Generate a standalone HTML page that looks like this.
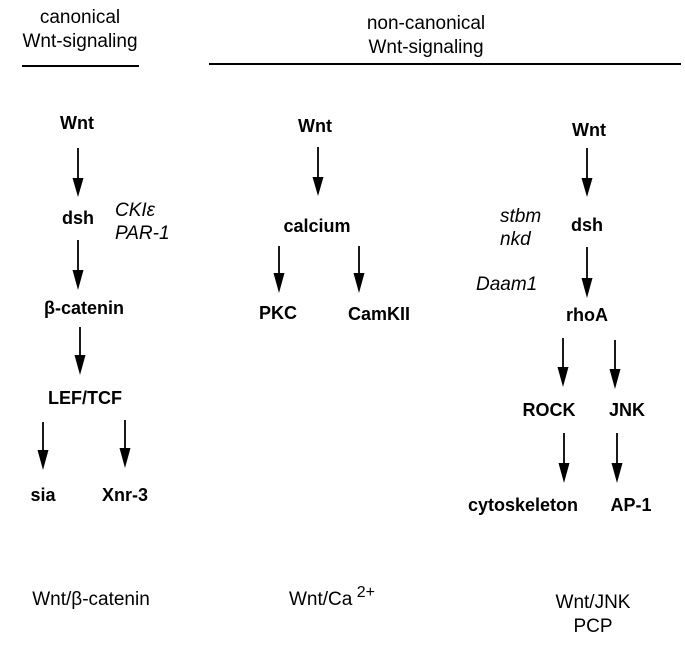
<!DOCTYPE html>
<html><head><meta charset="utf-8"><style>body{margin:0;background:#fff}</style></head><body>
<svg width="685" height="647" xmlns="http://www.w3.org/2000/svg" font-family="Liberation Sans, Arial, sans-serif">
<g font-size="19" text-anchor="middle" fill="#000">
<text x="80" y="23">canonical</text>
<text x="80" y="47">Wnt-signaling</text>
<text x="426" y="29">non-canonical</text>
<text x="426" y="53">Wnt-signaling</text>
<text x="91" y="605">Wnt/β-catenin</text>
<text x="332" y="605">Wnt/Ca<tspan dy="-8" font-size="16"> 2+</tspan></text>
<text x="593" y="608">Wnt/JNK</text>
<text x="593" y="632">PCP</text>
</g>
<line x1="22" y1="66" x2="139" y2="66" stroke="#000" stroke-width="2"/>
<line x1="209" y1="64" x2="681" y2="64" stroke="#000" stroke-width="2"/>
<g font-size="18" font-weight="bold" text-anchor="middle">
<text x="77" y="129">Wnt</text>
<text x="78" y="224">dsh</text>
<text x="84" y="314">β-catenin</text>
<text x="85" y="404">LEF/TCF</text>
<text x="43" y="501">sia</text>
<text x="125" y="501">Xnr-3</text>
<text x="315" y="132">Wnt</text>
<text x="317" y="232">calcium</text>
<text x="278" y="319">PKC</text>
<text x="379" y="320">CamKII</text>
<text x="589" y="136">Wnt</text>
<text x="587" y="231">dsh</text>
<text x="587" y="321">rhoA</text>
<text x="549" y="416">ROCK</text>
<text x="627" y="416">JNK</text>
<text x="523" y="511">cytoskeleton</text>
<text x="631" y="511">AP-1</text>
</g>
<g font-size="19" font-style="italic">
<text x="115" y="216">CKIε</text>
<text x="115" y="239">PAR-1</text>
<text x="500" y="222">stbm</text>
<text x="500" y="245">nkd</text>
<text x="476" y="290">Daam1</text>
</g>
<g stroke="#000" stroke-width="1.8">
<line x1="78" y1="148" x2="78" y2="180"/>
<line x1="78" y1="240" x2="78" y2="272"/>
<line x1="80" y1="327" x2="80" y2="357"/>
<line x1="43" y1="422" x2="43" y2="452"/>
<line x1="125" y1="420" x2="125" y2="450"/>
<line x1="318" y1="147" x2="318" y2="178"/>
<line x1="279" y1="246" x2="279" y2="275"/>
<line x1="359" y1="246" x2="359" y2="275"/>
<line x1="587" y1="148" x2="587" y2="178"/>
<line x1="587" y1="247" x2="587" y2="278"/>
<line x1="563" y1="338" x2="563" y2="368"/>
<line x1="615" y1="340" x2="615" y2="370"/>
<line x1="564" y1="433" x2="564" y2="464"/>
<line x1="617" y1="433" x2="617" y2="464"/>
</g>
<g fill="#000">
<polygon points="72.5,178 83.5,178 78,197"/>
<polygon points="72.5,270 83.5,270 78,290"/>
<polygon points="74.5,355 85.5,355 80,375"/>
<polygon points="37.5,450 48.5,450 43,470"/>
<polygon points="119.5,448 130.5,448 125,468"/>
<polygon points="312.5,177 323.5,177 318,196"/>
<polygon points="273.5,273 284.5,273 279,293"/>
<polygon points="353.5,273 364.5,273 359,293"/>
<polygon points="581.5,178 592.5,178 587,197"/>
<polygon points="581.5,278 592.5,278 587,298"/>
<polygon points="557.5,367 568.5,367 563,387"/>
<polygon points="609.5,369 620.5,369 615,389"/>
<polygon points="558.5,463 569.5,463 564,483"/>
<polygon points="611.5,463 622.5,463 617,483"/>
</g>
</svg>
</body></html>
